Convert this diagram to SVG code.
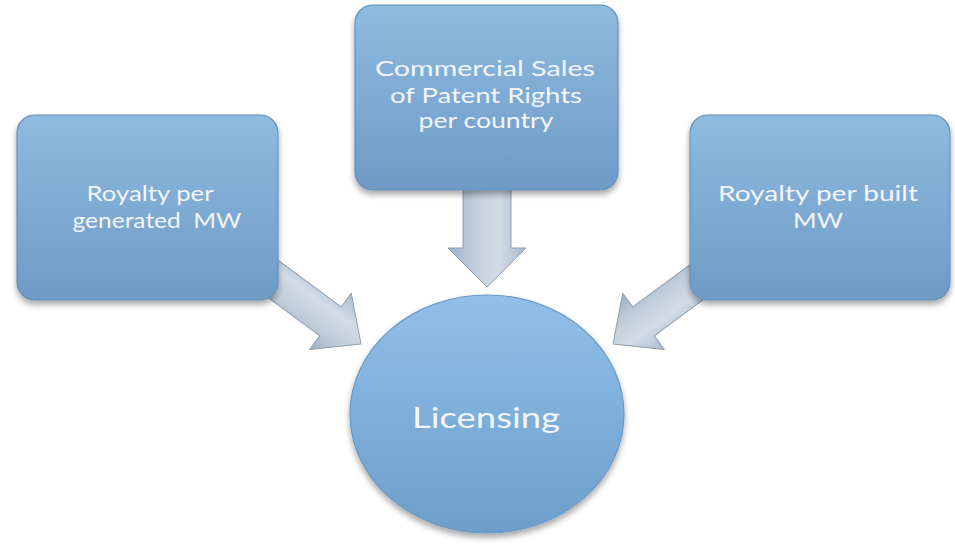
<svg xmlns="http://www.w3.org/2000/svg" width="955" height="546" viewBox="0 0 955 546">
  <defs>
    <linearGradient id="boxGrad" x1="0" y1="0" x2="0" y2="1">
      <stop offset="0" stop-color="#8fbbe1"/>
      <stop offset="0.5" stop-color="#7eaad3"/>
      <stop offset="1" stop-color="#6e9bc6"/>
    </linearGradient>
    <linearGradient id="circGrad" x1="0" y1="0" x2="0" y2="1">
      <stop offset="0" stop-color="#91c0e8"/>
      <stop offset="0.5" stop-color="#7eafdb"/>
      <stop offset="1" stop-color="#6d9dca"/>
    </linearGradient>
    <linearGradient id="arrowGrad" x1="0" y1="0" x2="0" y2="1">
      <stop offset="0" stop-color="#a9b9cb"/>
      <stop offset="0.35" stop-color="#d2dce7"/>
      <stop offset="0.65" stop-color="#c3cfdc"/>
      <stop offset="1" stop-color="#9eafc3"/>
    </linearGradient>
    <filter id="shadow" x="-10%" y="-10%" width="120%" height="130%">
      <feGaussianBlur in="SourceAlpha" stdDeviation="3"/>
      <feOffset dx="0" dy="4" result="b"/>
      <feComponentTransfer><feFuncA type="linear" slope="0.35"/></feComponentTransfer>
      <feMerge><feMergeNode/><feMergeNode in="SourceGraphic"/></feMerge>
    </filter>
  </defs>
  <style>
    .box { fill: url(#boxGrad); stroke: #6590ba; stroke-width: 1.2; filter: url(#shadow); }
    .circ { fill: url(#circGrad); stroke: #6b9ac6; stroke-width: 1.2; filter: url(#shadow); }
    .arrow { fill: url(#arrowGrad); stroke: #8d9db0; stroke-width: 1; stroke-linejoin: round; }
    .lbl { font-family: Lato, "Open Sans", "Liberation Sans", sans-serif; fill: #f2f6fa; text-anchor: middle; font-size: 21px; }
    .big { font-size: 28px; }
  </style>
  <rect width="955" height="546" fill="#ffffff"/>

  <g id="connectors">
    <path class="arrow" transform="translate(361,344) rotate(36.5)" d="M0,0 L-38,-35 L-38,-18 L-130,-18 L-130,18 L-38,18 L-38,35 Z"/>
    <path class="arrow" transform="translate(487,287) rotate(90)" d="M0,0 L-39,-39 L-39,-24 L-110,-24 L-110,24 L-39,24 L-39,39 Z"/>
    <path class="arrow" transform="translate(613,344) rotate(143.5)" d="M0,0 L-38,-35 L-38,-18 L-130,-18 L-130,18 L-38,18 L-38,35 Z"/>
  </g>

  <g id="node-royalty-generated">
    <rect class="box" x="17" y="115" width="261" height="185" rx="18" ry="18"/>
    <text class="lbl" x="150" y="201" textLength="127" lengthAdjust="spacingAndGlyphs">Royalty per</text>
    <text class="lbl" x="157" y="228" textLength="169" lengthAdjust="spacingAndGlyphs" xml:space="preserve">generated  MW</text>
  </g>

  <g id="node-commercial-sales">
    <rect class="box" x="355" y="5" width="263" height="185" rx="18" ry="18"/>
    <text class="lbl" x="485" y="76" textLength="220" lengthAdjust="spacingAndGlyphs">Commercial Sales</text>
    <text class="lbl" x="486" y="103" textLength="192" lengthAdjust="spacingAndGlyphs">of Patent Rights</text>
    <text class="lbl" x="486" y="128" textLength="135" lengthAdjust="spacingAndGlyphs">per country</text>
  </g>

  <g id="node-royalty-built">
    <rect class="box" x="690" y="115" width="260" height="185" rx="18" ry="18"/>
    <text class="lbl" x="818" y="201" textLength="200" lengthAdjust="spacingAndGlyphs">Royalty per built</text>
    <text class="lbl" x="818" y="228" textLength="50" lengthAdjust="spacingAndGlyphs">MW</text>
  </g>

  <g id="node-licensing">
    <ellipse class="circ" cx="487" cy="414" rx="137" ry="119"/>
    <text class="lbl big" x="486" y="428" textLength="148" lengthAdjust="spacingAndGlyphs">Licensing</text>
  </g>
</svg>
